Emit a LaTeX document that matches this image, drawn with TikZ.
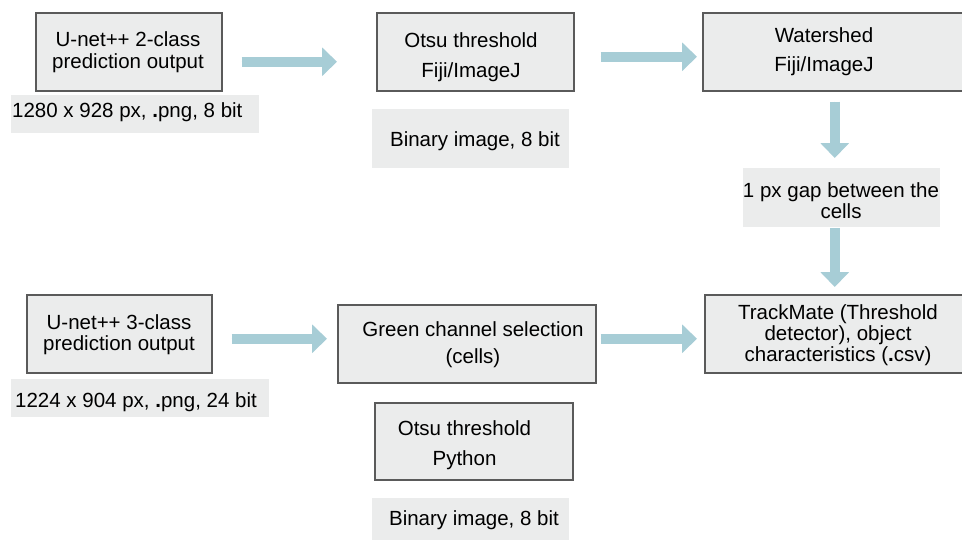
\documentclass[tikz,border=0pt]{standalone}
\usepackage{fontspec}
\setmainfont{Liberation Sans}
\usetikzlibrary{arrows.meta}
\definecolor{boxfill}{HTML}{EBECEC}
\definecolor{boxline}{HTML}{5A5A5A}
\definecolor{arrowc}{HTML}{A7CDD6}
\tikzset{
  stepbox/.style={draw=boxline, line width=1.5pt, fill=boxfill, inner sep=0pt, anchor=north west},
  infobox/.style={fill=boxfill, draw=none, inner sep=0pt, anchor=north west},
  txt/.style={anchor=base, align=center, inner sep=0pt, font=\fontsize{20.5}{#1}\selectfont},
  txt/.default=21.5,
  flow/.style={draw=arrowc, fill=arrowc, line width=10pt, -{Triangle[length=15pt,width=28pt]}}
}
\begin{document}
\begin{tikzpicture}[x=1pt, y=-1pt]
\clip (0,0) rectangle (962,550);
% boxes
\node[stepbox, minimum width=186pt, minimum height=78pt] (b1) at (35,12) {};
\node[infobox, minimum width=248pt, minimum height=38pt] (l1) at (11,95) {};
\node[stepbox, minimum width=197pt, minimum height=78pt] (b2) at (376,12) {};
\node[infobox, minimum width=197pt, minimum height=59pt] (l2) at (372,109) {};
\node[stepbox, minimum width=264pt, minimum height=78pt] (b3) at (702,12) {};
\node[infobox, minimum width=197pt, minimum height=59pt] (l3) at (743,168) {};
\node[stepbox, minimum width=262pt, minimum height=78pt] (b4) at (704,294) {};
\node[stepbox, minimum width=185pt, minimum height=78pt] (b5) at (26,294) {};
\node[infobox, minimum width=258pt, minimum height=38pt] (l5) at (11,379) {};
\node[stepbox, minimum width=258pt, minimum height=78pt] (b6) at (337,304) {};
\node[stepbox, minimum width=198pt, minimum height=77pt] (b7) at (374,402) {};
\node[infobox, minimum width=197pt, minimum height=42pt] (l7) at (372,498) {};
% texts (multi-line nodes: base = last line's baseline)
\node[txt] (t1) at (128,68) {U-net++ 2-class\\prediction output};
\node[txt, anchor=base west] (t1l) at (12,117) {1280 x 928 px, \textbf{.}png, 8 bit};
\node[txt=30] (t2) at (471,77) {Otsu threshold\\Fiji/ImageJ};
\node[txt] (t2l) at (475,146) {Binary image, 8 bit};
\node[txt=29] (t3) at (824,71) {Watershed\\Fiji/ImageJ};
\node[txt=21] (t3l) at (841,218) {1 px gap between the\\cells};
\node[txt=21] (t4) at (838,361) {TrackMate (Threshold\\detector), object\\characteristics (\textbf{.}csv)};
\node[txt=21] (t5) at (119,350) {U-net++ 3-class\\prediction output};
\node[txt, anchor=base west] (t5l) at (15,407) {1224 x 904 px, \textbf{.}png, 24 bit};
\node[txt=27] (t6) at (473,363) {Green channel selection\\(cells)};
\node[txt=30] (t7) at (464.5,465) {Otsu threshold\\Python};
\node[txt] (t7l) at (474,525) {Binary image, 8 bit};
% arrows
\draw[flow] ([shift={(19,10)}]b1.east) -- ([shift={(-39,10)}]b2.west);
\draw[flow] ([shift={(26,5)}]b2.east) -- ([shift={(-5,5)}]b3.west);
\draw[flow] ([shift={(0,10)}]b3.south) -- ([shift={(0,-10)}]b3.south |- l3.north);
\draw[flow] ([shift={(0,1)}]b3.south |- l3.south) -- ([shift={(0,-7)}]b3.south |- b4.north);
\draw[flow] ([shift={(19,5)}]b5.east) -- ([shift={(-10,-5)}]b6.west);
\draw[flow] ([shift={(4,-5)}]b6.east) -- ([shift={(-7,5)}]b4.west);
\end{tikzpicture}
\end{document}
